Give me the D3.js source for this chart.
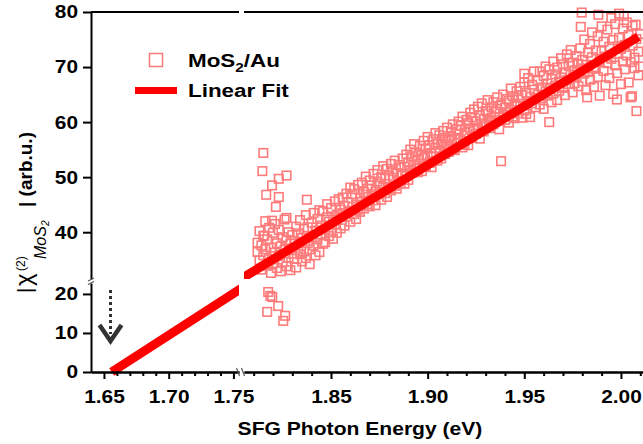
<!DOCTYPE html>
<html>
<head>
<meta charset="utf-8">
<script src="https://d3js.org/d3.v7.min.js"></script>
<style>
  body { margin: 0; background: #fff; }
  svg text { font-family: "Liberation Sans", Arial, sans-serif; }
</style>
</head>
<body>
<div id="chart"></div>
<script>
// measured points: [SFG photon energy (eV), |chi2| (arb.u.)]
var scatter = [
  [1.812,38.1],[1.812,36.4],[1.813,40.2],[1.813,34.9],[1.814,37.6],[1.814,33.2],[1.815,39.3],[1.815,35.8],[1.816,42.0],[1.816,36.9],
  [1.817,33.9],[1.817,38.7],[1.818,40.8],[1.818,35.1],[1.819,37.2],[1.819,32.6],[1.820,39.9],[1.820,34.4],[1.821,41.5],[1.821,36.3],
  [1.822,33.5],[1.822,38.0],[1.823,35.7],[1.823,40.4],[1.824,32.9],[1.824,37.4],[1.825,39.1],[1.825,34.6],[1.826,36.8],[1.826,42.3],
  [1.827,33.8],[1.827,38.6],[1.828,35.4],[1.828,40.0],[1.829,37.9],[1.829,33.1],[1.830,39.5],[1.830,36.1],
  [1.815,54.4],[1.8145,51.1],[1.8195,48.5],[1.823,49.7],[1.827,50.3],[1.8165,46.8],[1.823,46.4],[1.8215,44.6],[1.8375,45.9],
  [1.8155,39.4],[1.8195,42.1],[1.827,42.6],
  [1.8175,20.5],[1.8186,19.5],[1.8196,19.2],[1.8227,16.9],[1.817,15.4],[1.8263,14.4],[1.8253,13.1],
  [1.831,38.4],[1.831,35.2],[1.832,41.0],[1.832,33.6],[1.833,37.1],[1.833,39.8],[1.834,36.0],[1.834,42.2],[1.835,34.7],[1.835,38.9],
  [1.836,40.6],[1.836,36.5],[1.837,43.1],[1.837,35.3],[1.838,38.0],[1.838,40.9],[1.839,36.9],[1.839,34.2],[1.840,41.7],[1.840,39.0],
  [1.841,37.6],[1.841,43.5],[1.842,35.8],[1.842,40.3],[1.843,38.7],[1.843,42.4],[1.844,36.4],[1.844,44.0],[1.845,39.6],[1.845,41.2],
  [1.846,37.9],[1.846,43.8],[1.847,40.5],[1.847,38.2],[1.848,42.7],[1.848,45.1],[1.849,39.3],[1.849,41.9],[1.850,44.4],[1.850,40.0],
  [1.851,42.3],[1.851,38.8],[1.852,45.6],[1.852,41.4],[1.853,43.2],[1.853,39.9],[1.854,46.0],[1.854,42.8],[1.855,44.1],[1.855,40.7],
  [1.856,43.5],[1.856,46.3],[1.857,41.2],[1.857,44.8],[1.858,47.0],[1.858,42.9],[1.859,45.4],[1.859,43.8],[1.860,48.1],[1.860,41.9],
  [1.861,44.6],[1.861,46.9],[1.862,43.3],[1.862,47.8],[1.863,45.0],[1.863,42.4],[1.864,48.6],[1.864,44.1],[1.865,46.2],[1.865,43.7],
  [1.866,49.0],[1.866,45.5],[1.867,47.3],[1.867,44.3],[1.868,46.8],[1.868,50.1],[1.869,45.1],[1.869,47.9],[1.870,44.7],[1.870,49.4],
  [1.871,46.6],[1.871,48.5],[1.872,45.8],[1.872,50.6],[1.873,47.4],[1.873,44.9],[1.874,49.2],[1.874,51.3],[1.875,46.9],[1.875,48.8],
  [1.876,50.0],[1.876,45.9],[1.877,48.2],[1.877,52.0],[1.878,47.1],[1.878,49.7],[1.879,51.5],[1.879,46.4],[1.880,50.3],[1.880,48.0],
  [1.881,52.4],[1.881,47.6],[1.882,49.9],[1.882,51.1],[1.883,48.4],[1.883,53.0],[1.884,50.7],[1.884,47.9],[1.885,52.2],[1.885,49.3],
  [1.886,51.8],[1.886,48.9],
  [1.887,50.6],[1.887,53.4],[1.888,48.8],[1.888,51.9],[1.889,54.1],[1.889,50.2],[1.890,52.7],[1.890,49.5],[1.891,55.0],[1.891,51.3],
  [1.892,53.8],[1.892,50.8],[1.893,52.1],[1.893,56.0],[1.894,51.6],[1.894,54.5],[1.895,50.9],[1.895,53.2],[1.896,55.7],[1.896,52.4],
  [1.897,54.0],[1.897,51.1],[1.898,56.6],[1.898,53.5],[1.899,52.0],[1.899,55.2],[1.900,53.9],[1.900,57.3],[1.901,52.6],[1.901,55.8],
  [1.902,54.4],[1.902,51.8],[1.903,56.9],[1.903,53.7],[1.904,55.3],[1.904,58.0],[1.905,53.0],[1.905,56.1],[1.906,54.8],[1.906,57.6],
  [1.907,55.9],[1.907,53.4],[1.908,58.4],[1.908,56.5],[1.909,54.2],[1.909,57.1],[1.910,55.6],[1.910,59.0],[1.911,56.8],[1.911,54.6],
  [1.912,58.2],[1.912,57.4],[1.913,55.1],[1.913,59.6],[1.914,57.0],[1.914,54.9],[1.915,58.7],[1.915,56.2],[1.916,60.1],[1.916,57.8],
  [1.917,56.9],[1.917,59.3],[1.918,55.4],[1.918,61.0],[1.919,58.1],[1.919,56.0],[1.920,60.4],[1.920,57.5],[1.921,59.8],[1.921,55.8],
  [1.922,61.7],[1.922,58.6],[1.923,57.2],[1.923,60.9],[1.924,59.0],[1.924,62.3],[1.925,57.9],[1.925,60.1],[1.926,58.8],[1.926,62.8],
  [1.927,61.2],[1.927,57.0],[1.928,59.7],[1.928,63.4],[1.929,60.6],[1.929,58.3],[1.930,62.0],[1.930,59.4],[1.931,61.5],[1.931,64.0],
  [1.932,60.2],[1.932,58.9],[1.933,62.7],[1.933,60.8],[1.934,59.6],[1.934,63.6],[1.935,61.9],[1.935,60.0],[1.936,64.5],[1.936,62.4],
  [1.937,60.9],[1.937,58.7],[1.938,63.1],[1.938,52.9],[1.939,61.3],[1.939,65.0],[1.940,62.6],[1.940,60.4],[1.941,64.2],[1.941,61.8],
  [1.942,59.9],[1.942,63.9],[1.943,62.2],[1.943,66.1],[1.944,61.0],[1.944,64.7],[1.945,63.3],[1.945,60.7],[1.946,65.6],[1.946,62.9],
  [1.947,64.4],[1.947,61.6],
  [1.948,63.0],[1.948,66.4],[1.949,60.8],[1.949,64.9],[1.950,62.1],[1.950,67.2],[1.951,65.3],[1.951,61.5],[1.952,63.8],[1.952,68.0],
  [1.953,64.6],[1.953,60.9],[1.954,66.8],[1.954,63.4],[1.955,65.9],[1.955,69.2],[1.956,62.7],[1.956,64.1],[1.957,67.5],[1.957,65.0],
  [1.958,63.2],[1.958,69.2],[1.959,66.3],[1.959,64.3],[1.960,68.4],[1.960,62.4],[1.961,65.6],[1.961,70.1],[1.962,67.0],[1.962,64.8],
  [1.963,66.0],[1.963,69.6],[1.964,63.6],[1.964,67.8],[1.965,65.2],[1.965,71.0],[1.966,68.7],[1.966,66.6],[1.967,64.0],[1.967,69.9],
  [1.968,67.3],[1.968,65.7],[1.969,71.6],[1.969,68.1],[1.970,66.2],[1.970,70.5],[1.971,64.9],[1.971,69.0],[1.972,67.6],[1.972,72.3],
  [1.973,70.2],[1.973,66.9],[1.974,68.6],[1.974,73.1],[1.975,65.4],[1.975,70.8],[1.976,69.4],[1.976,67.1],[1.977,72.0],[1.977,68.3],
  [1.978,70.6],[1.978,66.5],
  [1.979,69.5],[1.979,73.4],[1.980,67.4],[1.980,71.3],[1.981,75.0],[1.981,68.8],[1.982,70.4],[1.982,65.8],[1.983,72.6],[1.983,69.1],
  [1.984,74.2],[1.984,67.7],[1.985,71.8],[1.985,76.3],[1.986,69.7],[1.986,66.4],[1.987,73.0],[1.987,70.0],[1.988,75.6],[1.988,68.2],
  [1.989,71.1],[1.989,64.8],[1.990,77.4],[1.990,72.9],[1.991,69.3],[1.991,74.6],[1.992,66.7],[1.992,71.9],[1.993,76.8],[1.993,70.7],
  [1.994,68.0],[1.994,73.7],[1.995,78.9],[1.995,71.5],[1.996,65.1],[1.996,74.9],[1.997,70.3],[1.997,77.8],[1.998,72.4],[1.998,68.9],
  [1.999,79.7],[1.999,75.3],[2.000,66.9],[2.000,73.3],[2.001,71.0],[2.001,77.0],[2.002,69.6],[2.002,74.0],[2.003,78.1],[2.003,72.1],
  [2.004,67.2],[2.004,75.8],[2.005,70.9],[2.005,64.5],[2.006,73.9],[2.006,77.5],[2.007,69.8],[2.007,71.7],[2.008,75.1],[2.008,62.0],
  [2.009,72.8],[2.009,68.5],[2.010,76.0],[2.010,70.1],
  [1.9797,79.9],[1.9883,79.5],[2.0015,79.3],[2.0076,77.7],[1.9792,77.3],[2.0057,64.7],[1.9979,64.1],[1.9825,64.5],[1.9629,60.0],[1.950,68.8]
];

// linear fit end points
var fitEnergy = [1.656, 2.009];
var fitChi = [0, 75.5];

var xMajorLeft = [1.65, 1.70, 1.75];
var xMinorLeft = [1.66, 1.67, 1.68, 1.69, 1.71, 1.72, 1.73, 1.74];
var xMajorRight = [1.85, 1.90, 1.95, 2.00];
var xMinorRight = [1.81, 1.82, 1.83, 1.84, 1.86, 1.87, 1.88, 1.89, 1.91, 1.92, 1.93, 1.94, 1.96, 1.97, 1.98, 1.99, 2.01];
var yTicksTop = [40, 50, 60, 70, 80];
var yTicksBottom = [0, 10, 20];

var width = 643, height = 444;
var stretch = 1.13; // the original text is a bit wide
var svg = d3.select("#chart").append("svg")
    .attr("width", width)
    .attr("height", height);

// broken axes: left/right x segments, top/bottom y segments
var xL = d3.scaleLinear().domain([1.64, 1.7543]).range([91, 239]);
var xR = d3.scaleLinear().domain([1.805, 2.0114]).range([244, 643]);
var yT = d3.scaleLinear().domain([31.5, 80]).range([279, 12]);
var yB = d3.scaleLinear().domain([0, 22.8]).range([372, 283]);

var defs = svg.append("defs");
defs.append("clipPath").attr("id", "clipBL").append("rect")
    .attr("x", 80).attr("y", yB.range()[1]).attr("width", xL.range()[1] - 80).attr("height", 100);
defs.append("clipPath").attr("id", "clipTR").append("rect")
    .attr("x", xR.range()[0]).attr("y", 0).attr("width", 420).attr("height", yT.range()[0]);

// scatter points
var ptColor = "#ff7b7b";
var sq = 8.5;
var pts = svg.append("g").attr("fill", "none").attr("stroke", ptColor).attr("stroke-width", 1.6);
scatter.forEach(function (d) {
    var px = d[0] >= xR.domain()[0] ? xR(d[0]) : xL(d[0]);
    var py;
    if (d[1] >= yT.domain()[0]) py = yT(d[1]);
    else if (d[1] <= yB.domain()[1]) py = yB(d[1]);
    else return;
    pts.append("rect")
        .attr("x", px - sq / 2).attr("y", py - sq / 2)
        .attr("width", sq).attr("height", sq);
});

// fit line, one piece per panel
var fitData = fitEnergy.map(function (e, i) { return [e, fitChi[i]]; });
svg.append("path")
    .datum(fitData)
    .attr("clip-path", "url(#clipBL)")
    .attr("fill", "none").attr("stroke", "#ff0000").attr("stroke-width", 9)
    .attr("d", d3.line().x(function (d) { return xL(d[0]); }).y(function (d) { return yB(d[1]); }));
svg.append("path")
    .datum(fitData)
    .attr("clip-path", "url(#clipTR)")
    .attr("fill", "none").attr("stroke", "#ff0000").attr("stroke-width", 9)
    .attr("d", d3.line().x(function (d) { return xR(d[0]); }).y(function (d) { return yT(d[1]); }));

// axes
function styleAxis(g) {
    g.selectAll(".domain").attr("stroke", "#000").attr("stroke-width", 2);
    g.selectAll(".tick line").attr("stroke", "#000").attr("stroke-width", 2);
    g.selectAll(".tick text")
        .attr("fill", "#000")
        .style("font-size", "18.5px")
        .style("font-weight", "bold");
}

var fmt = d3.format(".2f");
[[xL, xMajorLeft, xMinorLeft], [xR, xMajorRight, xMinorRight]].forEach(function (a) {
    svg.append("g")
        .attr("transform", "translate(0,372)")
        .call(d3.axisBottom(a[0]).tickValues(a[2]).tickSize(4).tickSizeOuter(0).tickFormat(""))
        .call(styleAxis);
    svg.append("g")
        .attr("transform", "translate(0,372)")
        .call(d3.axisBottom(a[0]).tickValues(a[1]).tickSize(7).tickSizeOuter(0).tickPadding(11).tickFormat(fmt))
        .call(styleAxis)
        .selectAll(".tick text").attr("transform", "scale(" + stretch + ",1)");
});

[[yT, yTicksTop], [yB, yTicksBottom]].forEach(function (a) {
    svg.append("g")
        .attr("transform", "translate(91,0)")
        .call(d3.axisLeft(a[0]).tickValues(a[1]).tickSize(8).tickSizeOuter(0).tickPadding(5))
        .call(styleAxis)
        .selectAll(".tick text")
        .attr("x", -13 / stretch)
        .attr("transform", "scale(" + stretch + ",1)");
});

// top frame
svg.append("line").attr("x1", xL.range()[0]).attr("x2", xL.range()[1])
    .attr("y1", yT(80)).attr("y2", yT(80)).attr("stroke", "#000").attr("stroke-width", 2);
svg.append("line").attr("x1", xR.range()[0]).attr("x2", xR.range()[1])
    .attr("y1", yT(80)).attr("y2", yT(80)).attr("stroke", "#000").attr("stroke-width", 2);

// break marks
var brk = svg.append("g").attr("stroke", "#555").attr("stroke-width", 1.2);
[238.5, 243.5].forEach(function (bx) {
    brk.append("line").attr("x1", bx - 2).attr("y1", 368).attr("x2", bx + 1).attr("y2", 376);
});
[279.5, 283].forEach(function (by) {
    brk.append("line").attr("x1", 88).attr("y1", by + 1.5).attr("x2", 94).attr("y2", by - 1.5);
});

// arrow
svg.append("line").attr("x1", 110.5).attr("x2", 110.5).attr("y1", 290).attr("y2", 334)
    .attr("stroke", "#333").attr("stroke-width", 3).attr("stroke-dasharray", "3,3");
svg.append("path").attr("d", "M99.5,325 L110.5,341 L121.5,325")
    .attr("fill", "none").attr("stroke", "#333").attr("stroke-width", 4.5);

// legend
svg.append("rect").attr("x", 149.5).attr("y", 53.5).attr("width", 13).attr("height", 13)
    .attr("fill", "none").attr("stroke", ptColor).attr("stroke-width", 1.5);
var l1 = svg.append("text").attr("transform", "translate(188,67) scale(1.18,1)")
    .style("font-size", "19px").style("font-weight", "bold");
l1.append("tspan").text("MoS");
l1.append("tspan").attr("dy", 5).style("font-size", "13px").text("2");
l1.append("tspan").attr("dy", -5).text("/Au");
svg.append("line").attr("x1", 135).attr("x2", 177).attr("y1", 90.5).attr("y2", 90.5)
    .attr("stroke", "#ff0000").attr("stroke-width", 7);
svg.append("text").attr("transform", "translate(188,97) scale(1.18,1)")
    .style("font-size", "19px").style("font-weight", "bold").text("Linear Fit");

// axis titles
svg.append("text").attr("transform", "translate(360,435) scale(1.14,1)").attr("text-anchor", "middle")
    .style("font-size", "18.5px").style("font-weight", "bold")
    .text("SFG Photon Energy (eV)");

var yl = svg.append("text").attr("transform", "translate(32,293) rotate(-90)");
yl.append("tspan").attr("x", 0).attr("y", 0).style("font-size", "20px").text("|");
yl.append("tspan").attr("x", 7).attr("y", 0).style("font-size", "24px").text("\u03c7");
yl.append("tspan").attr("x", 22).attr("y", -7).style("font-size", "12px").text("(2)");
yl.append("tspan").attr("x", 34).attr("y", 14).style("font-size", "16px").style("font-style", "italic").text("MoS");
yl.append("tspan").attr("y", 17).style("font-size", "10px").style("font-style", "italic").text("2");
yl.append("tspan").attr("x", 86).attr("y", 0).style("font-size", "19px").style("font-weight", "bold").text("| (arb.u.)");
</script>
</body>
</html>
